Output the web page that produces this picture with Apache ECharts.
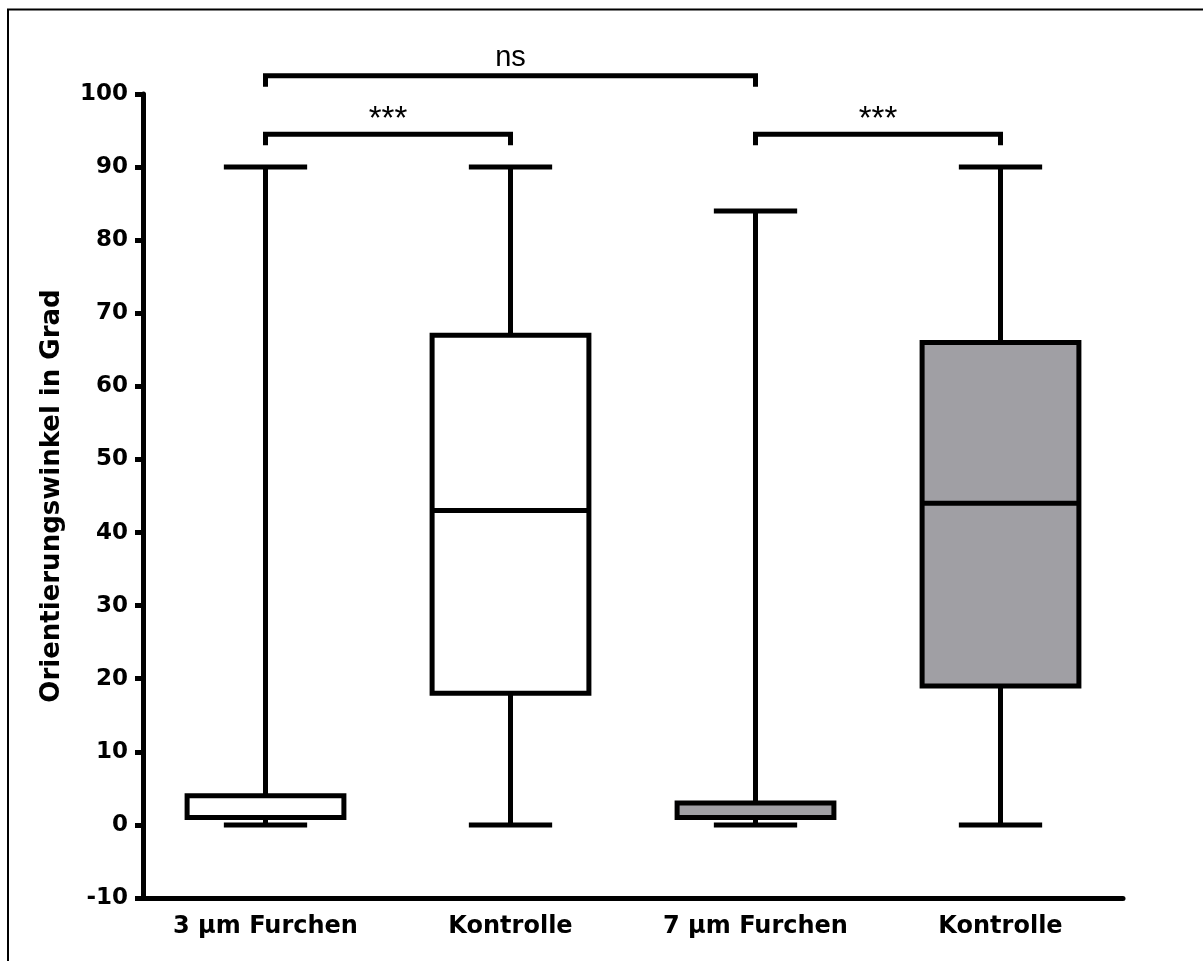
<!DOCTYPE html>
<html>
<head>
<meta charset="utf-8">
<title>Orientierungswinkel</title>
<script src="https://cdn.jsdelivr.net/npm/echarts@6/dist/echarts.min.js"></script>
<style>
  html, body { margin: 0; padding: 0; background: #fff; }
  #chart { width: 1203px; height: 961px; }
</style>
</head>
<body>
<div id="chart"></div>
<script>
// Groups along the x axis
const categories = ['3 µm Furchen', 'Kontrolle', '7 µm Furchen', 'Kontrolle'];

// Five-number summaries per group: [min, Q1, median, Q3, max] (degrees)
const furchen3 = [0, 1, 1, 4, 90];
const kontrolle3 = [0, 18, 43, 67, 90];
const furchen7 = [0, 1, 1, 3, 84];
const kontrolle7 = [0, 19, 44, 66, 90];

// Value axis range and tick step
const yMin = -10;
const yMax = 100;
const yStep = 10;

// Significance comparisons: [first group, second group, bracket level]
const comparisons = [[0, 2, 102.5], [0, 1, 94.5], [2, 3, 94.5]];
const comparisonLabels = ['ns', '***', '***'];

// Styling
const boxFills = ['#ffffff', '#ffffff', '#a09fa4', '#a09fa4'];
const BOLD_FONT = '"DejaVu Sans", Verdana, sans-serif';
const PLAIN_FONT = '"Liberation Sans", Arial, Helvetica, sans-serif';
const STROKE = 5;

const summaries = [furchen3, kontrolle3, furchen7, kontrolle7];
const boxData = summaries.map((s, i) => [i].concat(s));

function renderBox(params, api) {
  const i = api.value(0);
  const band = api.size([1, 0])[0];
  const halfBox = band * 0.32;
  const halfCap = band * 0.17;
  const at = k => api.coord([i, api.value(k)]);
  const cx = at(1)[0];
  const pMin = at(1)[1], pQ1 = at(2)[1], pMed = at(3)[1], pQ3 = at(4)[1], pMax = at(5)[1];
  const seg = (x1, y1, x2, y2) => ({
    type: 'line',
    shape: { x1, y1, x2, y2 },
    style: { stroke: '#000', lineWidth: STROKE, lineCap: 'butt' }
  });
  return {
    type: 'group',
    children: [
      seg(cx, pMax, cx, pQ3),
      seg(cx, pQ1, cx, pMin),
      seg(cx - halfCap, pMax, cx + halfCap, pMax),
      seg(cx - halfCap, pMin, cx + halfCap, pMin),
      {
        type: 'rect',
        shape: { x: cx - halfBox, y: pQ3, width: 2 * halfBox, height: pQ1 - pQ3 },
        style: { fill: boxFills[params.dataIndex], stroke: '#000', lineWidth: STROKE, lineJoin: 'miter' }
      },
      seg(cx - halfBox, pMed, cx + halfBox, pMed)
    ]
  };
}

function renderBracket(params, api) {
  const a = api.coord([api.value(0), api.value(2)]);
  const b = api.coord([api.value(1), api.value(2)]);
  const drop = 11;
  const label = comparisonLabels[params.dataIndex];
  const isStars = label.indexOf('*') >= 0;
  return {
    type: 'group',
    children: [
      {
        type: 'polyline',
        shape: { points: [[a[0], a[1] + drop], [a[0], a[1]], [b[0], b[1]], [b[0], b[1] + drop]] },
        style: { stroke: '#000', fill: null, lineWidth: 5, lineJoin: 'miter', lineCap: 'butt' }
      },
      {
        type: 'text',
        style: {
          text: label,
          x: (a[0] + b[0]) / 2,
          y: a[1] + (isStars ? 2 : -3),
          align: 'center',
          verticalAlign: 'bottom',
          fill: '#000',
          font: (isStars ? '33px ' : '29px ') + PLAIN_FONT
        }
      }
    ]
  };
}

const chart = echarts.init(document.getElementById('chart'), null, { renderer: 'canvas' });

chart.setOption({
  backgroundColor: '#fff',
  animation: false,
  graphic: [{
    type: 'rect',
    shape: { x: 8, y: 9.5, width: 1400, height: 1200 },
    style: { fill: null, stroke: '#000', lineWidth: 2 },
    silent: true
  }],
  grid: { left: 143, right: 80, top: 94, bottom: 63, outerBoundsMode: 'none' },
  xAxis: {
    type: 'category',
    data: categories,
    boundaryGap: true,
    axisLine: { onZero: false, lineStyle: { color: '#000', width: 5 } },
    axisTick: { alignWithLabel: true, length: 8, lineStyle: { color: '#000', width: 5 } },
    axisLabel: { color: '#000', fontFamily: BOLD_FONT, fontWeight: 'bold', fontSize: 24, margin: 17, interval: 0 },
    splitLine: { show: false }
  },
  yAxis: {
    type: 'value',
    min: yMin,
    max: yMax,
    interval: yStep,
    name: 'Orientierungswinkel in Grad',
    nameLocation: 'middle',
    nameRotate: 90,
    nameGap: 78,
    nameTextStyle: { color: '#000', fontFamily: BOLD_FONT, fontWeight: 'bold', fontSize: 26 },
    axisLine: { show: true, lineStyle: { color: '#000', width: 5 } },
    axisTick: { show: true, length: 8, lineStyle: { color: '#000', width: 5 } },
    axisLabel: { color: '#000', fontFamily: BOLD_FONT, fontWeight: 'bold', fontSize: 23, margin: 15 },
    splitLine: { show: false }
  },
  series: [
    {
      type: 'custom',
      name: 'boxes',
      renderItem: renderBox,
      encode: { x: 0, y: [1, 2, 3, 4, 5] },
      data: boxData,
      clip: false,
      z: 3
    },
    {
      type: 'custom',
      name: 'brackets',
      renderItem: renderBracket,
      encode: { x: [0, 1], y: 2 },
      data: comparisons,
      clip: false,
      z: 4
    }
  ]
});
</script>
</body>
</html>
